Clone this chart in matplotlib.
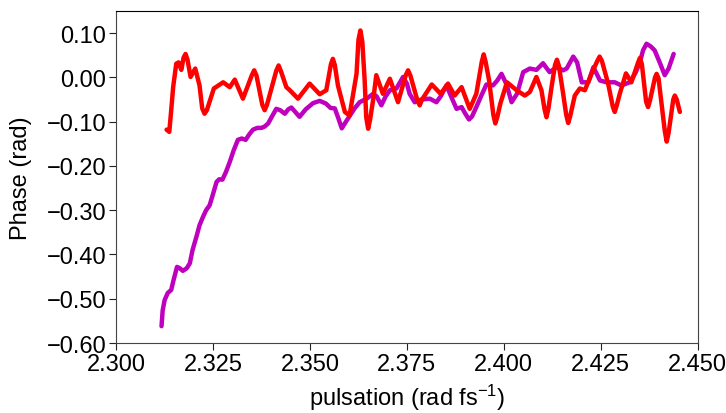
import matplotlib
matplotlib.use("Agg")
import matplotlib.pyplot as plt
from matplotlib.ticker import FuncFormatter, MultipleLocator

plt.rcParams['font.family'] = ['Liberation Sans', 'DejaVu Sans']
plt.rcParams['mathtext.default'] = 'regular'

# red trace (pulsation, phase)
red_points = [
    (2.3130, -0.118), (2.3137, -0.123), (2.3142, -0.074), (2.3147, -0.022), (2.3155, 0.031),
    (2.3161, 0.034), (2.3168, 0.017), (2.3174, 0.045), (2.3179, 0.053), (2.3184, 0.040),
    (2.3192, 0.001), (2.3204, 0.020), (2.3215, -0.018), (2.3222, -0.070), (2.3228, -0.082),
    (2.3234, -0.074), (2.3238, -0.063), (2.3252, -0.025), (2.3276, -0.011), (2.3293, -0.022),
    (2.3306, -0.005), (2.3327, -0.048), (2.3350, 0.005), (2.3356, 0.016), (2.3362, 0.004),
    (2.3377, -0.062), (2.3383, -0.074), (2.3389, -0.062), (2.3413, 0.015), (2.3419, 0.027),
    (2.3425, 0.014), (2.3439, -0.022), (2.3448, -0.029), (2.3469, -0.048), (2.3499, -0.014),
    (2.3525, -0.038), (2.3542, -0.029), (2.3554, 0.030), (2.3559, 0.042), (2.3564, 0.028),
    (2.3572, -0.018), (2.3590, -0.078), (2.3602, -0.086), (2.3620, 0.008), (2.3625, 0.085),
    (2.3630, 0.106), (2.3635, 0.080), (2.3641, -0.007), (2.3645, -0.090), (2.3650, -0.116),
    (2.3655, -0.095), (2.3664, -0.044), (2.3671, 0.005), (2.3688, -0.037), (2.3706, -0.003),
    (2.3727, -0.056), (2.3747, 0.005), (2.3753, 0.016), (2.3759, 0.004), (2.3777, -0.052),
    (2.3783, -0.063), (2.3789, -0.050), (2.3814, -0.016), (2.3837, -0.037), (2.3856, -0.014),
    (2.3873, -0.041), (2.3891, -0.022), (2.3912, -0.071), (2.3929, -0.037), (2.3943, 0.035),
    (2.3948, 0.052), (2.3953, 0.035), (2.3962, -0.007), (2.3973, -0.085), (2.3978, -0.104),
    (2.3983, -0.090), (2.3991, -0.059), (2.4008, -0.011), (2.4033, -0.029), (2.4054, -0.041),
    (2.4067, -0.033), (2.4084, 0.001), (2.4097, -0.029), (2.4105, -0.072), (2.4110, -0.090),
    (2.4115, -0.070), (2.4123, -0.022), (2.4132, 0.028), (2.4137, 0.040), (2.4142, 0.026),
    (2.4153, -0.037), (2.4161, -0.085), (2.4166, -0.103), (2.4171, -0.088), (2.4183, -0.041),
    (2.4196, -0.025), (2.4209, -0.029), (2.4226, 0.008), (2.4241, 0.037), (2.4247, 0.047),
    (2.4253, 0.037), (2.4269, -0.014), (2.4281, -0.066), (2.4286, -0.078), (2.4291, -0.064),
    (2.4299, -0.037), (2.4315, 0.009), (2.4329, -0.011), (2.4346, 0.033), (2.4351, 0.044),
    (2.4356, 0.030), (2.4367, -0.055), (2.4372, -0.067), (2.4377, -0.052), (2.4390, 0.000),
    (2.4394, 0.008), (2.4399, -0.002), (2.4415, -0.120), (2.4420, -0.145), (2.4425, -0.125),
    (2.4437, -0.050), (2.4441, -0.041), (2.4446, -0.050), (2.4454, -0.078),
]

purple_x = [2.3117, 2.3120, 2.3125, 2.3133, 2.3142, 2.3148, 2.3157, 2.3164, 2.3172, 2.3182,
            2.3190, 2.3197, 2.3207, 2.3215, 2.3224, 2.3232, 2.3241, 2.3249, 2.3259, 2.3266,
            2.3274, 2.3283, 2.3293, 2.3303, 2.3314, 2.3324, 2.3334, 2.3343, 2.3353, 2.3364,
            2.3375, 2.3383, 2.3392, 2.3402, 2.3413, 2.3423, 2.3435, 2.3444, 2.3452, 2.3462,
            2.3473, 2.3489, 2.3508, 2.3525, 2.3541, 2.3553, 2.3564, 2.3573, 2.3582, 2.3592,
            2.3603, 2.3615, 2.3628, 2.3646, 2.3663, 2.3672, 2.3684, 2.3695, 2.3706, 2.3723,
            2.3740, 2.3750, 2.3757, 2.3770, 2.3787, 2.3809, 2.3826, 2.3837, 2.3852, 2.3863,
            2.3878, 2.3891, 2.3900, 2.3910, 2.3918, 2.3929, 2.3942, 2.3955, 2.3972, 2.3983,
            2.3994, 2.4007, 2.4020, 2.4034, 2.4050, 2.4067, 2.4084, 2.4101, 2.4118, 2.4136,
            2.4153, 2.4162, 2.4179, 2.4189, 2.4201, 2.4218, 2.4231, 2.4248, 2.4265, 2.4286,
            2.4303, 2.4325, 2.4340, 2.4351, 2.4359, 2.4368, 2.4379, 2.4389, 2.4402, 2.4415,
            2.4425, 2.4438]
purple_y = [-0.562, -0.526, -0.503, -0.487, -0.480, -0.458, -0.428, -0.431, -0.437, -0.431,
            -0.420, -0.390, -0.360, -0.334, -0.315, -0.300, -0.289, -0.266, -0.236, -0.230,
            -0.231, -0.214, -0.191, -0.165, -0.141, -0.138, -0.141, -0.129, -0.118, -0.114,
            -0.114, -0.111, -0.104, -0.088, -0.071, -0.074, -0.082, -0.072, -0.068, -0.078,
            -0.089, -0.072, -0.058, -0.053, -0.059, -0.069, -0.070, -0.092, -0.115, -0.101,
            -0.086, -0.070, -0.056, -0.048, -0.037, -0.043, -0.063, -0.043, -0.029, -0.025,
            0.001, -0.014, -0.037, -0.056, -0.050, -0.048, -0.056, -0.043, -0.018, -0.041,
            -0.071, -0.067, -0.081, -0.095, -0.088, -0.067, -0.041, -0.016, -0.018, -0.007,
            0.008, -0.016, -0.056, -0.037, 0.012, 0.020, 0.017, 0.032, 0.012, 0.023,
            0.016, 0.020, 0.047, 0.034, -0.011, -0.011, 0.023, -0.007, -0.011, -0.011,
            -0.018, -0.011, 0.011, 0.034, 0.061, 0.076, 0.070, 0.061, 0.034, 0.005,
            0.020, 0.053]

red_x = [p[0] for p in red_points]
red_y = [p[1] for p in red_points]

fig = plt.figure(figsize=(7.26, 4.14), dpi=100)
ax = fig.add_axes([0.160, 0.169, 0.801, 0.802])
ax.plot(purple_x, purple_y, color='#bf00bf', lw=3.2, solid_joinstyle='round', solid_capstyle='round')
ax.plot(red_x, red_y, color='#ff0000', lw=3.2, solid_joinstyle='round', solid_capstyle='round')

ax.set_xlim(2.300, 2.450)
ax.set_ylim(-0.60, 0.15)
ax.xaxis.set_major_locator(MultipleLocator(0.025))
ax.yaxis.set_major_locator(MultipleLocator(0.10))
ax.xaxis.set_major_formatter(FuncFormatter(lambda v, p: f'{v:.3f}'))
ax.yaxis.set_major_formatter(FuncFormatter(lambda v, p: f'{v:.2f}'.replace('-', '\u2212')))
ax.tick_params(labelsize=17, direction='out', length=5, width=0.8, pad=2, colors='#222222')
ax.tick_params(labelcolor='black')
ax.set_xlabel('pulsation (rad fs$^{-1}$)', fontsize=17)
ax.set_ylabel('Phase (rad)', fontsize=17)
ax.xaxis.set_label_coords(0.5, -0.117)
ax.yaxis.set_label_coords(-0.145, 0.5)
for s in ax.spines.values():
    s.set_linewidth(0.8)
ax.spines['left'].set_color('#444444')
ax.spines['bottom'].set_color('#444444')
ax.spines['right'].set_color('#444444')

fig.savefig('out.png', dpi=100)
